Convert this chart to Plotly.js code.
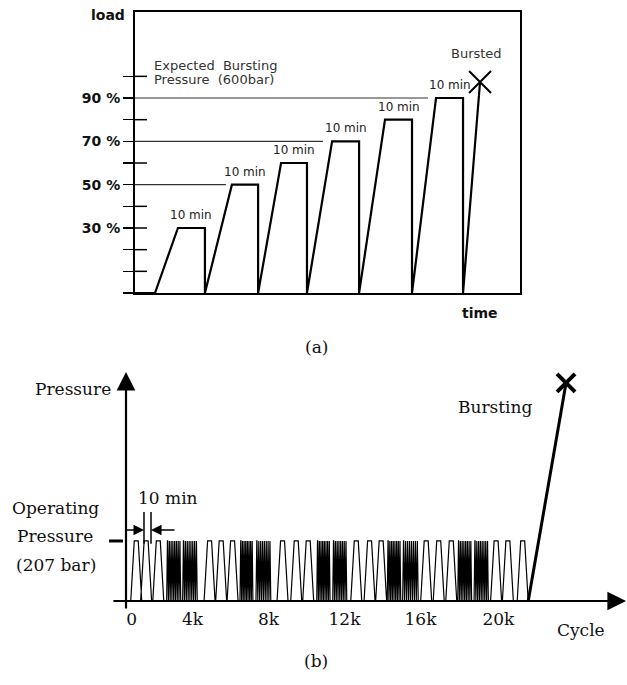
<!DOCTYPE html>
<html>
<head>
<meta charset="utf-8">
<script src="https://cdn.plot.ly/plotly-3.0.1.min.js"></script>
<style>html,body{margin:0;padding:0;background:#fff;}#chart{width:627px;height:685px;}</style>
</head>
<body>
<div id="chart"></div>
<script>
// ---------- (a) step-load test ----------
const levels    = [30, 50, 60, 70, 80, 90];          // % load of each step
const rampStart = [7.4, 25.9, 45.6, 63.7, 83.0, 102.6]; // min
const holdStart = [15.9, 35.9, 54.1, 73.0, 92.6, 111.5];
const holdEnd   = [25.9, 45.6, 63.7, 83.0, 102.6, 121.5];
const holdLabel = ['10 min', '10 min', '10 min', '10 min', '10 min', '10 min'];
const burstTime = 127.8;
const burstLoad = 97.4;
const guideLevels = [50, 70, 90];
const guideEnd    = [33.7, 69.6, 108.5];
const loadTicks    = [0, 10, 20, 30, 40, 50, 60, 70, 80, 90, 100];
const loadTickText = ['', '', '', '30 %', '', '50 %', '', '70 %', '', '90 %', ''];
const innerTicks   = [10, 20, 30, 40, 60, 80, 100];

// ---------- (b) cyclic test ----------
const operatingPressure = 207;   // bar
const pulseStart = [0.25, 0.77, 1.41, 4.11, 4.72, 5.32, 7.95, 8.67, 9.30,
                    11.83, 12.53, 13.14, 15.51, 16.17, 16.83, 19.19, 19.81, 20.59]; // k cycles
const denseStart = [2.14, 2.98, 6.00, 6.84, 10.04, 10.88, 13.75, 14.56, 17.46, 18.32];
const denseEnd   = [2.88, 3.75, 6.68, 7.62, 10.74, 11.62, 14.46, 15.38, 18.19, 19.07];
const burstStartCycle = 21.17;
const burstCycle = 23.16;
const burstPressure = 752;
const cycleTickPos  = [0.3, 3.5, 7.5, 11.5, 15.5, 19.6];
const cycleTickText = ['0', '4k', '8k', '12k', '16k', '20k'];

// ---- build (a) profile ----
const ax = [0], ay = [0];
for (let i = 0; i < levels.length; i++) {
  ax.push(rampStart[i], holdStart[i], holdEnd[i], holdEnd[i]);
  ay.push(0, levels[i], levels[i], 0);
}
ax.push(burstTime); ay.push(burstLoad);

const gx = [], gy = [];
guideLevels.forEach((L, i) => { gx.push(0, guideEnd[i], null); gy.push(L, L, null); });

// ---- build (b) profile ----
const RISE = 0.184, TOP = 0.21, FALL = 0.184, SPIKES = 8;
const events = [];
pulseStart.forEach(s => events.push({s: s, kind: 'p'}));
denseStart.forEach((s, i) => events.push({s: s, e: denseEnd[i], kind: 'd'}));
events.sort((a, b) => a.s - b.s);
const bx = [0], by = [0];
const P = operatingPressure;
events.forEach(ev => {
  if (ev.kind === 'p') {
    bx.push(ev.s, ev.s + RISE, ev.s + RISE + TOP, ev.s + RISE + TOP + FALL);
    by.push(0, P, P, 0);
  } else {
    const w = (ev.e - ev.s) / SPIKES;
    for (let j = 0; j < SPIKES; j++) {
      bx.push(ev.s + j * w, ev.s + j * w + w * 0.45, ev.s + j * w + w * 0.55, ev.s + (j + 1) * w);
      by.push(0, P, P, 0);
    }
  }
});
bx.push(burstStartCycle); by.push(0);

const sans = 'DejaVu Sans, sans-serif';
const serif = 'DejaVu Serif, serif';
const px = x => x / 627;
const py = y => 1 - y / 685;

const traces = [
  {x: gx, y: gy, mode: 'lines', line: {color: '#333', width: 1.2}, xaxis: 'x', yaxis: 'y', hoverinfo: 'skip'},
  {x: ax, y: ay, mode: 'lines', line: {color: '#000', width: 2.2}, xaxis: 'x', yaxis: 'y'},
  {x: [burstTime], y: [burstLoad], mode: 'markers', marker: {symbol: 'x-thin-open', size: 22, color: '#000', line: {color: '#000', width: 2}}, xaxis: 'x', yaxis: 'y'},
  {x: bx, y: by, mode: 'lines', line: {color: '#000', width: 1.2}, xaxis: 'x2', yaxis: 'y2'},
  {x: [burstStartCycle, burstCycle], y: [0, burstPressure], mode: 'lines', line: {color: '#000', width: 3}, xaxis: 'x2', yaxis: 'y2'},
  {x: [burstCycle], y: [burstPressure], mode: 'markers', marker: {symbol: 'x-thin-open', size: 18, color: '#000', line: {color: '#000', width: 4}}, xaxis: 'x2', yaxis: 'y2'}
];

const annotations = [];
// (a) hold labels
levels.forEach((L, i) => {
  annotations.push({xref: 'x', yref: 'y', x: (holdStart[i] + holdEnd[i]) / 2, y: L, yshift: 13,
    text: holdLabel[i], showarrow: false, font: {family: sans, size: 12, color: '#222'}});
});
const txt = (x, y, t, font, anchor) => annotations.push({xref: 'paper', yref: 'paper', x: px(x), y: py(y),
  text: t, showarrow: false, font: font, xanchor: anchor || 'center', yanchor: 'middle'});
txt(89, 15, '<b>load</b>', {family: sans, size: 14, color: '#111'}, 'left');
txt(480, 313, '<b>time</b>', {family: sans, size: 14, color: '#111'});
txt(152, 65, 'Expected  Bursting', {family: sans, size: 13, color: '#333'}, 'left');
txt(152, 80, 'Pressure  (600bar)', {family: sans, size: 13, color: '#333'}, 'left');
txt(476, 53, 'Bursted', {family: sans, size: 13, color: '#333'});
txt(316, 347, '(a)', {family: serif, size: 17, color: '#111'});
// (b)
txt(73, 389, 'Pressure', {family: serif, size: 17, color: '#111'});
txt(55, 508, 'Operating', {family: serif, size: 17, color: '#111'});
txt(55, 536, 'Pressure', {family: serif, size: 17, color: '#111'});
txt(56, 565, '(207 bar)', {family: serif, size: 17, color: '#111'});
txt(168, 498, '10 min', {family: serif, size: 17, color: '#111'});
txt(496, 407, 'Bursting', {family: serif, size: 17, color: '#111'});
txt(581, 630, 'Cycle', {family: serif, size: 17, color: '#111'});
txt(316, 661, '(b)', {family: serif, size: 17, color: '#111'});
// axis arrows (b)
const arrow = (x, y, tx, ty, w, s) => annotations.push({xref: 'x2', yref: 'y2', axref: 'x2', ayref: 'y2',
  x: x, y: y, ax: tx, ay: ty, text: '', showarrow: true, arrowhead: 2, arrowsize: s, arrowwidth: w, arrowcolor: '#000', standoff: 0});
arrow(26.32, 0, -0.74, 0, 2.2, 1.7);
arrow(0, 790, 0, -31, 2.2, 1.7);
arrow(0.947, 245, -0.105, 245, 1.5, 1.4);
arrow(1.316, 245, 2.63, 245, 1.5, 1.4);

const shapes = [];
innerTicks.forEach(v => shapes.push({type: 'line', xref: 'paper', yref: 'y', x0: px(135), x1: px(147), y0: v, y1: v, line: {color: '#000', width: 1.5}}));
shapes.push({type: 'line', xref: 'x2', yref: 'y2', x0: -0.89, x1: -0.16, y0: operatingPressure, y1: operatingPressure, line: {color: '#000', width: 3}});
shapes.push({type: 'line', xref: 'x2', yref: 'y2', x0: 0.947, x1: 0.947, y0: 197, y1: 307, line: {color: '#000', width: 1.5}});
shapes.push({type: 'line', xref: 'x2', yref: 'y2', x0: 1.316, x1: 1.316, y0: 197, y1: 307, line: {color: '#000', width: 1.5}});

const layout = {
  width: 627, height: 685, margin: {l: 0, r: 0, t: 0, b: 0},
  paper_bgcolor: '#fff', plot_bgcolor: 'rgba(0,0,0,0)', showlegend: false,
  xaxis: {domain: [px(135), px(520)], range: [0, 142.6], showline: true, mirror: true, linecolor: '#000', linewidth: 2,
    showgrid: false, zeroline: false, ticks: '', showticklabels: false, fixedrange: true},
  yaxis: {domain: [py(293), py(12)], range: [0, 129.7], showline: true, mirror: true, linecolor: '#000', linewidth: 2,
    showgrid: false, zeroline: false, ticks: 'outside', ticklen: 10, tickwidth: 1.5, tickcolor: '#000',
    tickvals: loadTicks, ticktext: loadTickText, tickfont: {family: sans, size: 14, color: '#111', weight: 'bold'}, fixedrange: true},
  xaxis2: {domain: [0, 1], range: [-126 / 19, 501 / 19], anchor: 'free', position: py(601), showline: false,
    showgrid: false, zeroline: false, ticks: '', ticklabelstandoff: 6, tickvals: cycleTickPos, ticktext: cycleTickText,
    tickfont: {family: serif, size: 17, color: '#111'}, fixedrange: true},
  yaxis2: {domain: [0, py(356.2)], range: [-84 / 0.29, 244.8 / 0.29], visible: false, fixedrange: true},
  annotations: annotations, shapes: shapes
};
Plotly.newPlot('chart', traces, layout, {displayModeBar: false, staticPlot: true});
</script>
</body>
</html>
